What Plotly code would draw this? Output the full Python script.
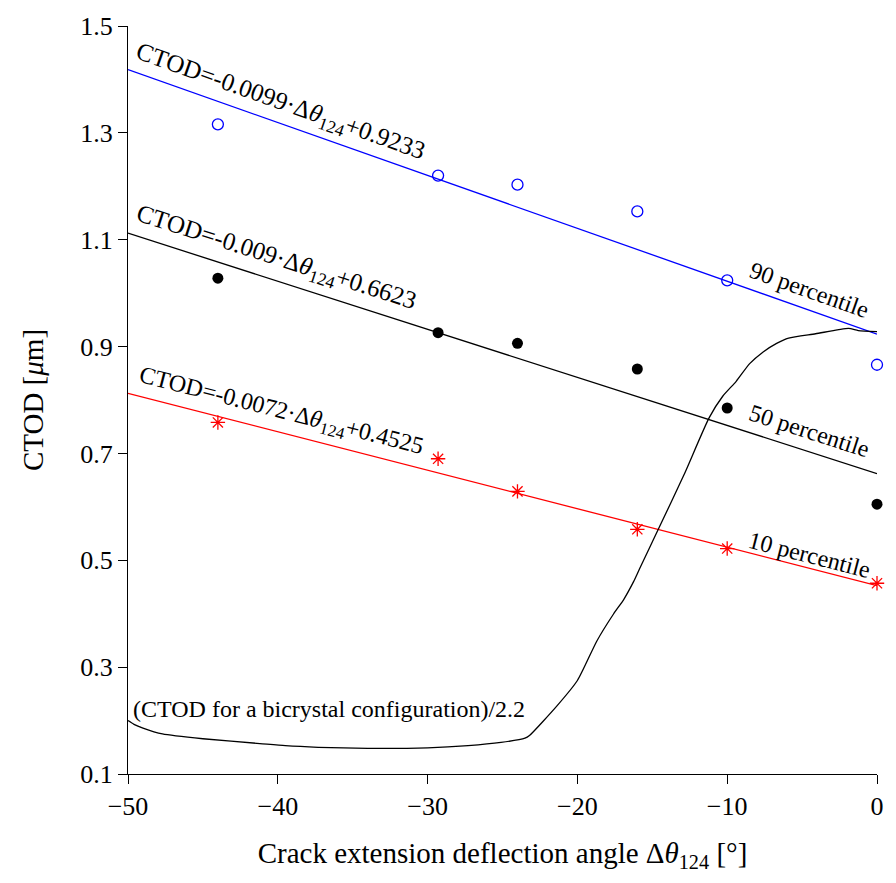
import plotly.graph_objects as go

# Measured points (crack extension deflection angle vs CTOD)
angles = [-44, -29.3, -24, -16, -10, 0]
ctod_p90 = [1.316, 1.220, 1.203, 1.153, 1.024, 0.866]
ctod_p50 = [1.028, 0.926, 0.906, 0.858, 0.785, 0.605]
ctod_p10 = [0.758, 0.690, 0.629, 0.558, 0.522, 0.457]

# Linear fits: CTOD = slope * angle + intercept
fit_names = ["90 percentile", "50 percentile", "10 percentile"]
fit_slopes = [-0.0099, -0.009, -0.0072]
fit_intercepts = [0.9233, 0.6623, 0.4525]
fit_x = [-50, 0]

# Bicrystal configuration curve (CTOD / 2.2)
bi_x = [-50, -49.6, -49.0, -47.7, -45.0, -41.2, -39.5, -37.3, -34.0, -30.0, -27.3, -25.1,
        -23.5, -23.2, -21.35, -20.0, -18.7, -17.6, -16.9, -16.25, -15.85, -14.6,
        -12.9, -11.2, -10.3, -9.4, -8.5, -7.6, -6.7, -5.9, -4.1, -1.9, -1.25, 0]
bi_y = [0.200, 0.193, 0.186, 0.175, 0.166, 0.157, 0.153, 0.150, 0.148, 0.149, 0.153, 0.159,
        0.167, 0.172, 0.228, 0.275, 0.349, 0.399, 0.427, 0.460, 0.484, 0.558,
        0.659, 0.767, 0.807, 0.835, 0.868, 0.890, 0.906, 0.916, 0.924, 0.934, 0.930, 0.928]

x_ticks = [-50, -40, -30, -20, -10, 0]
y_ticks = [0.1, 0.3, 0.5, 0.7, 0.9, 1.1, 1.3, 1.5]

FONT = "Liberation Serif"
colors = ["#0000ff", "#000000", "#ff0000"]

fig = go.Figure()

for slope, icpt, col in zip(fit_slopes, fit_intercepts, colors):
    fig.add_trace(go.Scatter(x=fit_x, y=[slope * v + icpt for v in fit_x], mode="lines",
                             line=dict(color=col, width=1.3), showlegend=False,
                             cliponaxis=False, hoverinfo="skip"))

fig.add_trace(go.Scatter(x=bi_x, y=bi_y, mode="lines",
                         line=dict(color="black", width=1.3, shape="spline", smoothing=0.6),
                         showlegend=False, cliponaxis=False))

fig.add_trace(go.Scatter(x=angles, y=ctod_p90, mode="markers",
                         marker=dict(symbol="circle-open", size=11, color="#0000ff",
                                     line=dict(width=1.3, color="#0000ff")),
                         showlegend=False, cliponaxis=False))
fig.add_trace(go.Scatter(x=angles, y=ctod_p50, mode="markers",
                         marker=dict(symbol="circle", size=11, color="black"),
                         showlegend=False, cliponaxis=False))
fig.add_trace(go.Scatter(x=angles, y=ctod_p10, mode="markers",
                         marker=dict(symbol="asterisk-open", size=12, color="#ff0000",
                                     line=dict(width=1.3, color="#ff0000")),
                         showlegend=False, cliponaxis=False))

eq_pos = [(-39.85, 1.357, 19.5), (-40.1, 1.065, 17.8), (-39.8, 0.778, 14.4)]
eq_sizes = [25, 25, 24]
for (ax, ay, ang), slope, icpt, sz in zip(eq_pos, fit_slopes, fit_intercepts, eq_sizes):
    txt = f"CTOD={slope}·Δ<i>θ</i><sub>124</sub>+{icpt}"
    fig.add_annotation(x=ax, y=ay, xref="x", yref="y", text=txt, showarrow=False,
                       textangle=ang, font=dict(family=FONT, size=sz, color="black"))

pct_pos = [(-4.5, 1.006, 19.5), (-4.5, 0.742, 17.8), (-4.5, 0.509, 14.4)]
for (ax, ay, ang), name in zip(pct_pos, fit_names):
    fig.add_annotation(x=ax, y=ay, xref="x", yref="y", text=name, showarrow=False,
                       textangle=ang, font=dict(family=FONT, size=24, color="black"))

fig.add_annotation(x=-36.6, y=0.222, xref="x", yref="y",
                   text="(CTOD for a bicrystal configuration)/2.2", showarrow=False,
                   font=dict(family=FONT, size=24, color="black"))

fig.update_layout(
    width=896, height=883,
    margin=dict(l=128, r=14, t=20, b=109),
    paper_bgcolor="white", plot_bgcolor="white",
    font=dict(family=FONT, size=26, color="black"),
    xaxis=dict(range=[-50, 0], tickvals=x_ticks, ticks="outside", ticklen=9, tickwidth=1.3,
               tickcolor="black", showline=True, linecolor="black", linewidth=1.3,
               showgrid=False, zeroline=False, tickfont=dict(family=FONT, size=26),
               title=dict(text="Crack extension deflection angle Δ<i>θ</i><sub>124</sub> [°]",
                          font=dict(family=FONT, size=29), standoff=22)),
    yaxis=dict(range=[0.1, 1.5], tickvals=y_ticks, tickformat=".1f", ticks="outside",
               ticklen=9, tickwidth=1.3, tickcolor="black", showline=True, linecolor="black",
               linewidth=1.3, showgrid=False, zeroline=False,
               tickfont=dict(family=FONT, size=26),
               title=dict(text="CTOD [<i>μ</i>m]", font=dict(family=FONT, size=29), standoff=28)),
)

fig.write_html("out.html")
